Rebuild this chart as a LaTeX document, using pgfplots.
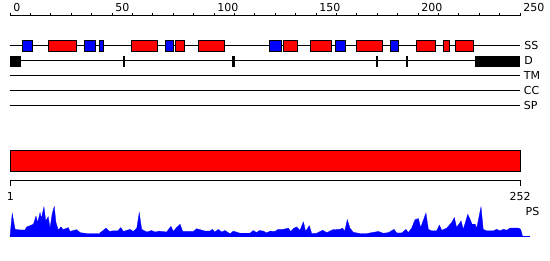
\documentclass[border=0pt]{standalone}
\usepackage{fontspec}
\setmainfont{DejaVu Sans}
\usepackage{pgfplots}
\usepackage{pgfplotstable}
\pgfplotsset{compat=1.18}
\pgfplotstableread{
p s
1.0 0
2.1 0.77
3.5 0.24
5.9 0.22
8.4 0.22
9.2 0.32
10.8 0.36
12.5 0.41
13.8 0.68
14.6 0.47
15.8 0.80
16.4 0.60
17.7 0.99
18.6 0.52
19.8 0.66
20.7 0.28
21.8 0.77
22.8 1.00
23.6 0.47
24.8 0.21
26.0 0.32
27.2 0.23
29.7 0.30
30.5 0.17
33.8 0.23
35.5 0.13
38.7 0.10
43.7 0.10
44.5 0.08
46.1 0.16
48.2 0.28
49.9 0.17
51.7 0.19
54.1 0.19
55.5 0.30
56.8 0.17
60.1 0.24
61.7 0.17
63.4 0.28
64.6 0.80
65.8 0.24
68.3 0.15
70.7 0.20
72.4 0.15
74.5 0.18
78.1 0.15
80.2 0.34
81.4 0.17
83.0 0.30
84.7 0.41
86.0 0.17
88.0 0.17
91.2 0.17
92.9 0.26
94.5 0.23
97.0 0.18
99.4 0.18
100.6 0.24
101.9 0.15
103.5 0.24
105.2 0.15
106.8 0.20
109.3 0.09
110.9 0.18
114.2 0.11
119.1 0.11
120.7 0.20
122.4 0.13
123.7 0.20
125.7 0.18
127.3 0.12
129.0 0.18
131.4 0.17
133.0 0.24
135.5 0.24
138.0 0.28
139.1 0.17
140.8 0.28
142.1 0.32
143.7 0.21
145.4 0.49
146.5 0.17
148.3 0.36
149.5 0.10
151.9 0.11
154.9 0.21
156.9 0.13
160.0 0.23
163.4 0.24
164.7 0.28
165.7 0.17
167.0 0.56
168.3 0.28
170.0 0.14
173.3 0.10
176.6 0.10
178.2 0.12
182.3 0.17
184.7 0.11
187.2 0.13
190.0 0.24
191.3 0.12
193.8 0.12
195.9 0.24
197.0 0.13
198.7 0.28
200.3 0.56
202.0 0.60
203.1 0.30
204.4 0.54
205.7 0.78
206.9 0.24
208.5 0.19
211.0 0.19
212.3 0.38
213.5 0.21
215.9 0.28
218.4 0.47
219.7 0.63
220.8 0.30
223.0 0.52
224.1 0.24
226.3 0.74
227.4 0.58
228.4 0.41
229.9 0.41
230.7 0.28
232.8 0.99
233.9 0.24
235.6 0.19
238.9 0.19
240.5 0.24
242.2 0.19
243.8 0.24
245.5 0.21
247.1 0.28
251.2 0.28
252.3 0.24
253.3 0
}\pstable
\pgfplotstableread{
p s
1 0
257 0
}\psbase
\newcommand{\ssbox}[3]{\addplot[fill=#1,draw=black,line width=1pt] coordinates {(#2,40) (#3,40) (#3,51) (#2,51)} -- cycle;}
\newcommand{\dbox}[2]{\addplot[fill=black,draw=none] coordinates {(#1,55) (#2,55) (#2,66) (#1,66)} -- cycle;}
\begin{document}
\begin{tikzpicture}
\fontsize{11}{13}\selectfont
\begin{axis}[
  scale only axis, width=550pt, height=260pt,
  xmin=-4.902, xmax=264.706, ymin=0, ymax=260,
  y dir=reverse, hide axis, clip=false,
  every node/.style={inner sep=0pt, font=\fontsize{11}{13}\selectfont},
]
% canvas extent
\addplot[draw=none, forget plot] coordinates {(-4.902,0) (264.706,260)};
% top ruler
\draw[line width=1pt] (axis cs:0,15) -- (axis cs:250,15);
\pgfplotsinvokeforeach{0,10,...,250}{\draw[line width=1pt] (axis cs:#1,15.5) -- (axis cs:#1,12);}
\pgfplotsinvokeforeach{0,50,100,150,200,250}{\node[anchor=base west] at (axis cs:#1-0.2,11) {#1};}
% track lines
\draw[line width=1pt] (axis cs:0,45) -- (axis cs:250,45);
\draw[line width=1pt] (axis cs:0,60) -- (axis cs:250,60);
\draw[line width=1pt] (axis cs:0,75) -- (axis cs:250,75);
\draw[line width=1pt] (axis cs:0,90) -- (axis cs:250,90);
\draw[line width=1pt] (axis cs:0,105) -- (axis cs:250,105);
\node[anchor=west] at (axis cs:250.3,45) {SS};
\node[anchor=west] at (axis cs:250.3,60) {D};
\node[anchor=west] at (axis cs:250.0,75) {TM};
\node[anchor=west] at (axis cs:250.0,90) {CC};
\node[anchor=west] at (axis cs:250.0,105) {SP};
% SS elements
\ssbox{blue}{6.0}{11.1}
\ssbox{red}{18.8}{32.7}
\ssbox{blue}{36.4}{42.0}
\ssbox{blue}{43.8}{45.9}
\ssbox{red}{59.5}{72.4}
\ssbox{blue}{76.1}{80.2}
\ssbox{red}{81.0}{85.6}
\ssbox{red}{92.3}{105.0}
\ssbox{blue}{127.1}{133.2}
\ssbox{red}{134.0}{141.0}
\ssbox{red}{147.5}{157.7}
\ssbox{blue}{159.5}{164.6}
\ssbox{red}{169.8}{182.5}
\ssbox{blue}{186.4}{190.5}
\ssbox{red}{199.2}{208.7}
\ssbox{red}{212.4}{215.5}
\ssbox{red}{218.3}{227.3}
% D elements
\dbox{0}{5.2}
\dbox{55.4}{56.6}
\dbox{108.9}{110.1}
\dbox{179.4}{180.6}
\dbox{194.1}{195.3}
\dbox{228}{250}
% red bar
\addplot[fill=red,draw=black,line width=1pt] coordinates {(0,150) (250,150) (250,171) (0,171)} -- cycle;
% lower ruler
\draw[line width=1pt] (axis cs:0,185) -- (axis cs:0,180) -- (axis cs:250,180) -- (axis cs:250,185);
\node[anchor=base] at (axis cs:0.2,200) {1};
\node[anchor=base] at (axis cs:250,200) {252};
\node[anchor=base west] at (axis cs:250.9,215) {PS};
% PS profile
\addplot[blue,line width=1pt] table[x expr={(\thisrow{p}-1)*250/251}, y expr={235.2-30*\thisrow{s}}] {\psbase};
\addplot[fill=blue,draw=blue,line width=0.3pt] table[x expr={(\thisrow{p}-1)*250/251}, y expr={235.7-30*\thisrow{s}}] {\pstable} -- cycle;
\end{axis}
\end{tikzpicture}
\end{document}
